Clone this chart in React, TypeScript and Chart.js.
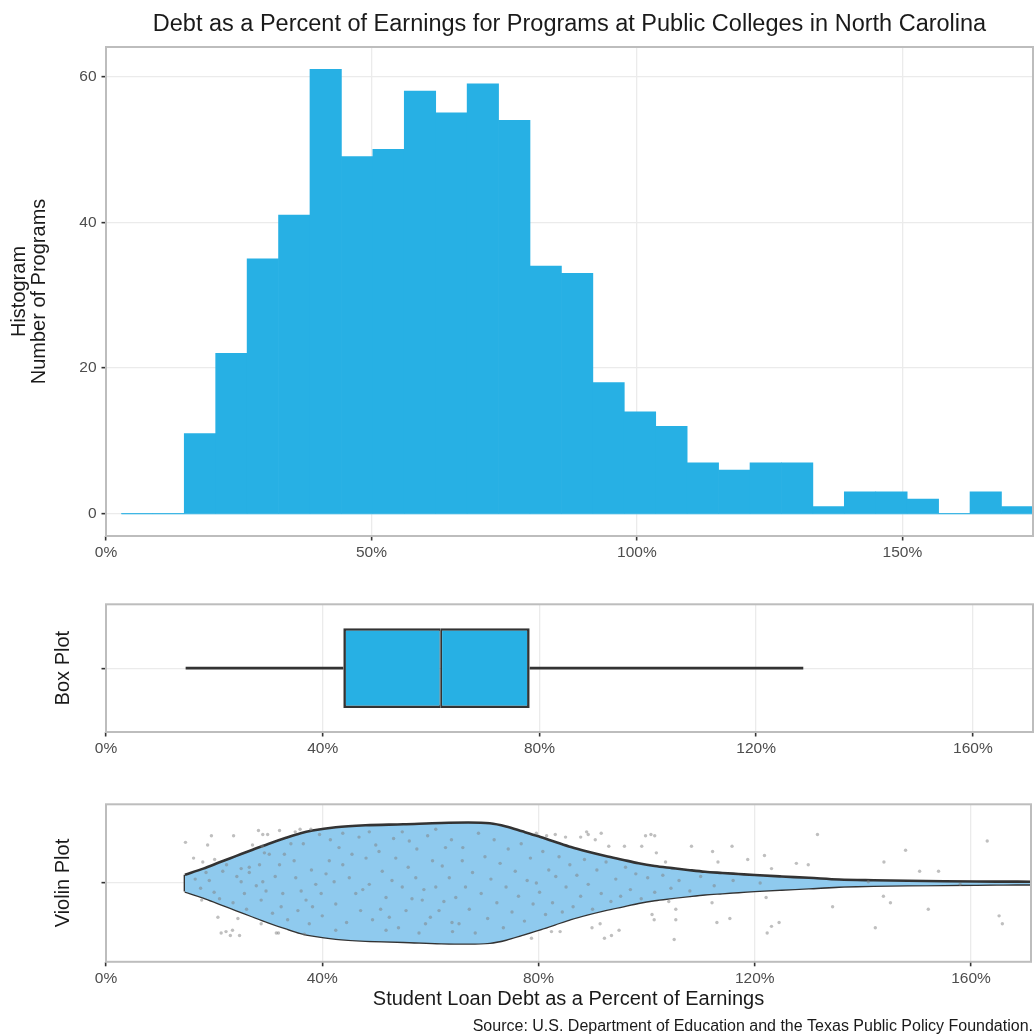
import React, { useEffect, useRef } from 'react';
import { Chart, registerables } from 'chart.js';

Chart.register(...registerables);

const FONT = "'Liberation Sans', Arial, Helvetica, sans-serif";
Chart.defaults.font.family = FONT;

const BLUE = '#27B0E4';
const VIOLIN_BLUE = '#8FCAEE';
const DARK = '#333333';
const GRID = '#EBEBEB';
const TICK_TEXT = '#4D4D4D';
const TEXT = '#1A1A1A';
const BORDER = '#BDBDBD';

// ---------- text ----------
const chartTitle = 'Debt as a Percent of Earnings for Programs at Public Colleges in North Carolina';
const histYTitle = ['Histogram', 'Number of Programs'];
const boxYTitle = 'Box Plot';
const violinYTitle = 'Violin Plot';
const xAxisTitle = 'Student Loan Debt as a Percent of Earnings';
const sourceText = 'Source: U.S. Department of Education and the Texas Public Policy Foundation.';

// ---------- histogram ----------
const binEdges = [2.9, 8.82, 14.74, 20.66, 26.58, 32.5, 38.42, 44.34, 50.26, 56.18, 62.1, 68.02, 73.94, 79.86, 85.78, 91.7, 97.62, 103.54, 109.46, 115.38, 121.3, 127.22, 133.14, 139.06, 144.98, 150.9, 156.82, 162.74, 168.66, 174.58];
const binCounts = [0, 0, 11, 22, 35, 41, 61, 49, 50, 58, 55, 59, 54, 34, 33, 18, 14, 12, 7, 6, 7, 7, 1, 3, 3, 2, 0, 3, 1];
const histXTicks = [0, 50, 100, 150];
const histYTicks = [0, 20, 40, 60];
const histXRange = [0, 174.6];
const histYRange = [-3.05, 64.05];

// ---------- box plot ----------
const boxStats = { whiskerLow: 14.7, q1: 43.8, median: 61.8, q3: 78.2, whiskerHigh: 128.7 };
const lowerXRange = [0, 171.1];
const lowerXTicks = [0, 40, 80, 120, 160];

// ---------- violin ----------
const violinX = [14.6, 18, 21, 24, 27, 30, 33.3, 36, 38.2, 42.5, 48, 55, 62, 67, 71, 74, 77, 80, 83, 86, 89, 92.4, 95.5, 98.5, 101.5, 104.7, 108, 110.8, 114, 117, 120, 125, 130, 135.6, 142, 148.3, 155, 161, 166, 171.1];
const violinHalfWidth = [0.064, 0.11, 0.158, 0.205, 0.252, 0.298, 0.345, 0.38, 0.4, 0.425, 0.44, 0.448, 0.458, 0.461, 0.455, 0.431, 0.394, 0.356, 0.315, 0.274, 0.24, 0.206, 0.178, 0.151, 0.13, 0.114, 0.098, 0.086, 0.077, 0.069, 0.061, 0.05, 0.04, 0.027, 0.021, 0.017, 0.014, 0.012, 0.011, 0.01];

// jittered programs [percent, jittered row position]
const jitterPoints: [number, number][] = [
  [14.7, 1.31], [19.5, 1.36], [18.8, 1.29], [23.6, 1.36], [28.2, 1.40], [29.0, 1.37], [29.9, 1.37], [32.1, 1.40], [35.0, 1.39], [35.9, 1.41], [37.9, 1.41],
  [16.2, 1.19], [17.9, 1.16], [20.1, 1.18], [27.1, 1.29], [17.7, 0.87], [20.7, 0.74], [24.4, 0.73], [21.3, 0.62], [22.2, 0.63], [23.4, 0.64], [23.0, 0.60],
  [24.7, 0.60], [28.7, 0.69], [31.5, 0.62], [31.9, 0.62], [36.7, 0.61],
  [79.6, 1.38], [81.5, 1.36], [83.1, 1.37], [85.0, 1.35], [87.8, 1.35], [88.9, 1.39], [89.2, 1.37], [90.5, 1.33], [91.6, 1.38], [93.0, 1.28], [95.9, 1.28],
  [99.1, 1.28], [99.8, 1.36], [100.8, 1.37], [101.5, 1.36], [101.8, 1.23], [103.5, 1.16], [108.3, 1.28], [112.2, 1.24], [113.2, 1.16], [115.8, 1.28],
  [118.7, 1.18], [121.8, 1.21], [123.1, 1.11], [127.7, 1.15], [129.9, 1.14], [131.6, 1.37], [143.9, 1.16], [147.9, 1.25], [150.5, 1.09], [154.0, 1.09], [163.0, 1.32],
  [78.7, 0.58], [82.4, 0.63], [84.0, 0.63], [89.9, 0.66], [91.4, 0.69], [92.2, 0.58], [93.5, 0.60], [94.9, 0.64], [101.0, 0.76], [101.4, 0.72], [105.1, 0.57],
  [105.4, 0.80], [105.4, 0.72], [104.1, 0.86], [112.1, 0.85], [113.0, 0.70], [115.4, 0.73], [122.1, 0.89], [122.3, 0.62], [123.1, 0.67], [124.5, 0.70], [134.4, 0.82],
  [142.3, 0.66], [143.8, 0.90], [145.1, 0.85], [152.1, 0.80], [165.2, 0.75], [165.8, 0.69],
  [19.1, 1.02], [21.6, 1.09], [25.0, 1.11], [26.5, 1.12], [25.0, 1.01], [25.6, 0.92], [26.5, 1.08], [28.4, 1.14], [29.3, 1.23], [30.2, 1.22], [33.0, 1.22],
  [32.1, 1.14], [29.0, 1.01], [29.6, 0.94], [28.7, 0.87], [32.7, 0.92], [32.4, 0.82], [34.8, 1.17], [35.1, 1.04], [36.1, 0.94], [35.5, 0.79], [37.0, 0.87],
  [38.2, 0.82], [38.8, 0.99], [39.8, 0.92], [40.7, 1.07], [41.3, 1.17], [42.2, 1.01], [42.5, 0.84], [43.1, 1.27], [43.8, 1.14], [45.0, 1.04], [46.2, 0.92],
  [47.1, 0.79], [48.1, 1.19], [48.7, 0.99], [49.3, 0.72], [49.9, 1.29], [51.1, 1.09], [51.8, 0.89], [52.4, 0.74], [53.6, 1.19], [54.8, 0.97], [55.5, 0.79],
  [56.1, 1.32], [57.3, 1.04], [58.5, 0.87], [59.1, 0.69], [60.4, 1.17], [61.0, 0.97], [61.6, 0.79], [62.8, 1.27], [63.5, 1.04], [64.7, 0.89], [65.3, 0.69],
  [65.9, 1.17], [66.5, 0.97], [39.5, 1.37], [43.8, 1.38], [48.7, 1.39], [54.8, 1.39], [61.0, 1.41], [51.8, 0.64], [57.9, 0.62], [64.1, 0.63], [42.5, 0.64], [37.6, 0.69],
  [36.5, 1.30], [38.0, 1.10], [40.0, 0.75], [41.5, 1.33], [44.5, 0.70], [45.5, 1.22], [46.8, 1.35], [47.5, 0.95], [50.5, 1.24], [50.8, 0.80], [52.9, 1.02],
  [53.2, 1.34], [54.1, 0.66], [55.9, 1.12], [56.6, 0.88], [57.5, 1.26], [58.8, 0.95], [59.5, 1.36], [60.0, 0.74], [62.2, 1.13], [62.5, 0.86], [63.9, 1.33],
  [64.0, 0.70], [66.0, 1.27], [67.2, 0.80], [67.8, 1.08], [68.3, 0.62], [68.9, 1.38], [69.4, 0.92], [70.1, 1.20], [70.6, 0.73], [71.2, 1.03], [71.8, 1.33],
  [72.3, 0.85], [72.9, 1.15], [73.5, 0.66], [74.0, 0.97], [74.4, 1.26], [75.1, 0.78], [75.7, 1.09], [76.3, 0.90], [76.8, 1.30], [77.4, 0.71], [77.9, 1.02],
  [78.5, 1.19], [79.0, 0.84], [79.6, 1.00], [80.2, 0.93], [80.8, 1.24], [81.3, 0.76], [81.9, 1.10], [82.6, 0.85], [83.2, 1.05], [83.8, 1.20], [84.4, 0.78],
  [85.1, 0.97], [85.8, 1.14], [86.4, 0.82], [87.1, 1.06], [87.8, 0.90], [88.5, 1.18], [89.2, 0.99], [90.0, 0.80], [90.8, 1.10], [91.6, 0.92], [92.5, 1.16],
  [93.4, 0.86], [94.3, 1.03], [95.2, 0.90], [96.1, 1.12], [97.0, 0.95], [98.0, 1.07], [99.0, 0.88], [100.2, 1.04], [101.5, 0.93], [103.0, 1.06], [104.5, 0.96],
  [106.0, 1.02], [108.0, 0.94], [110.0, 1.05], [112.5, 0.98], [116.0, 1.02], [121.0, 1.00], [141.0, 1.01], [158.0, 0.99],
  [16.5, 1.03], [17.5, 0.96], [18.5, 1.08], [20.0, 0.93], [21.0, 0.88], [22.3, 1.14], [23.5, 0.85], [24.2, 1.05], [26.0, 0.80], [27.8, 0.98], [28.9, 1.28],
  [30.8, 0.77], [31.3, 1.05], [33.6, 0.72], [34.2, 1.30],
];

// ---------- shared helpers ----------
const tickFont = { family: FONT, size: 15.5 };
const LINE_W = 2.6;

const panelBorder = {
  id: 'panelBorder',
  afterDraw(chart: any) {
    const { ctx, chartArea: a } = chart;
    ctx.save();
    ctx.strokeStyle = BORDER;
    ctx.lineWidth = 2;
    ctx.strokeRect(a.left, a.top, a.right - a.left, a.bottom - a.top);
    ctx.restore();
  },
};

const gridOpts = { color: GRID, lineWidth: 1.3, tickColor: DARK, tickWidth: 1.6, tickLength: 4.5, offset: false };

function xScale(range: number[], tickValues: number[], height: number, title?: string) {
  return {
    type: 'linear',
    min: range[0],
    max: range[1],
    offset: false,
    afterFit: (s: any) => { s.height = height; },
    afterBuildTicks: (s: any) => { s.ticks = tickValues.map((v) => ({ value: v })); },
    grid: gridOpts,
    border: { display: false },
    ticks: { font: tickFont, color: TICK_TEXT, padding: 3, maxRotation: 0, autoSkip: false, callback: (v: any) => v + '%' },
    title: title
      ? { display: true, text: title, color: TEXT, font: { family: FONT, size: 20, lineHeight: 1.2 }, padding: { top: 0, bottom: 0 } }
      : { display: false },
  };
}

function useChart(build: () => any) {
  const ref = useRef<HTMLCanvasElement | null>(null);
  useEffect(() => {
    if (!ref.current) return;
    const chart = new Chart(ref.current, build());
    return () => chart.destroy();
  }, []);
  return ref;
}

function Histogram() {
  const ref = useChart(() => {
    const centers = binCounts.map((_, i) => (binEdges[i] + binEdges[i + 1]) / 2);
    return {
      type: 'bar',
      data: {
        datasets: [
          {
            type: 'bar',
            data: centers.map((c, i) => ({ x: c, y: binCounts[i] })),
            backgroundColor: BLUE,
            borderWidth: 0,
            barPercentage: 1,
            categoryPercentage: 1,
          },
          {
            type: 'line',
            data: [
              { x: binEdges[0], y: 0 },
              { x: binEdges[binEdges.length - 1], y: 0 },
            ],
            borderColor: BLUE,
            borderWidth: 1.2,
            pointRadius: 0,
          },
        ],
      },
      options: {
        responsive: false,
        animation: false,
        events: [],
        layout: { padding: { top: 0, left: 0, right: 2, bottom: 0 } },
        plugins: {
          legend: { display: false },
          tooltip: { enabled: false },
          title: {
            display: true,
            text: chartTitle,
            color: TEXT,
            fullSize: false,
            font: { family: FONT, size: 23.5, weight: 'normal', lineHeight: 1.2 },
            padding: { top: 10, bottom: 8.8 },
          },
        },
        scales: {
          x: xScale(histXRange, histXTicks, 30),
          y: {
            type: 'linear',
            min: histYRange[0],
            max: histYRange[1],
            afterFit: (s: any) => { s.width = 106; },
            afterBuildTicks: (s: any) => { s.ticks = histYTicks.map((v) => ({ value: v })); },
            grid: gridOpts,
            border: { display: false },
            ticks: { font: tickFont, color: TICK_TEXT, padding: 5 },
            title: {
              display: true,
              text: histYTitle,
              color: TEXT,
              font: { family: FONT, size: 20, lineHeight: 0.98 },
              padding: { top: 10.1, bottom: 0 },
            },
          },
        },
      },
      plugins: [panelBorder],
    };
  });
  return <canvas ref={ref} width={1035} height={566} style={{ position: 'absolute', left: 0, top: 0 }} />;
}

function BoxPlot() {
  const ref = useChart(() => {
    const row = 'Box';
    const half = LINE_W / 2;
    return {
      type: 'bar',
      data: {
        labels: [row],
        datasets: [
          {
            type: 'bar',
            indexAxis: 'y',
            data: [[boxStats.q1, boxStats.median]],
            backgroundColor: BLUE,
            borderColor: DARK,
            borderWidth: { left: LINE_W, top: LINE_W, bottom: LINE_W, right: half },
            borderSkipped: false,
            grouped: false,
            barPercentage: 0.625,
            categoryPercentage: 1,
          },
          {
            type: 'bar',
            indexAxis: 'y',
            data: [[boxStats.median, boxStats.q3]],
            backgroundColor: BLUE,
            borderColor: DARK,
            borderWidth: { left: half, top: LINE_W, bottom: LINE_W, right: LINE_W },
            borderSkipped: false,
            grouped: false,
            barPercentage: 0.625,
            categoryPercentage: 1,
          },
          {
            type: 'line',
            data: [
              { x: boxStats.whiskerLow, y: row },
              { x: boxStats.q1, y: row },
            ],
            borderColor: DARK,
            borderWidth: LINE_W,
            pointRadius: 0,
          },
          {
            type: 'line',
            data: [
              { x: boxStats.q3, y: row },
              { x: boxStats.whiskerHigh, y: row },
            ],
            borderColor: DARK,
            borderWidth: LINE_W,
            pointRadius: 0,
          },
        ],
      },
      options: {
        responsive: false,
        animation: false,
        events: [],
        layout: { padding: { top: 14, left: 0, right: 2, bottom: 0 } },
        plugins: { legend: { display: false }, tooltip: { enabled: false }, title: { display: false } },
        scales: {
          x: xScale(lowerXRange, lowerXTicks, 30),
          y: {
            type: 'category',
            labels: [row],
            offset: true,
            afterFit: (s: any) => { s.width = 106; },
            grid: gridOpts,
            border: { display: false },
            ticks: { font: tickFont, color: TICK_TEXT, padding: 5, callback: () => '' },
            title: {
              display: true,
              text: boxYTitle,
              color: TEXT,
              font: { family: FONT, size: 20, lineHeight: 1.2 },
              padding: { top: 51, bottom: 0 },
            },
          },
        },
      },
      plugins: [panelBorder],
    };
  });
  return <canvas ref={ref} width={1035} height={172} style={{ position: 'absolute', left: 0, top: 590 }} />;
}

function ViolinPlot() {
  const ref = useChart(() => {
    const upper = violinX.map((x, i) => ({ x, y: 1 + violinHalfWidth[i] }));
    const lower = violinX.map((x, i) => ({ x, y: 1 - violinHalfWidth[i] }));
    const edge = [
      { x: violinX[0], y: 1 - violinHalfWidth[0] },
      { x: violinX[0], y: 1 + violinHalfWidth[0] },
    ];
    return {
      type: 'line',
      data: {
        datasets: [
          {
            data: jitterPoints.map(([x, y]) => ({ x, y })),
            showLine: false,
            pointRadius: 1.7,
            pointBorderWidth: 0,
            pointBackgroundColor: 'rgba(128,128,128,0.5)',
          },
          {
            data: upper,
            borderColor: DARK,
            borderWidth: LINE_W,
            pointRadius: 0,
            cubicInterpolationMode: 'monotone',
            fill: '+1',
            backgroundColor: VIOLIN_BLUE,
          },
          {
            data: lower,
            borderColor: DARK,
            borderWidth: LINE_W,
            pointRadius: 0,
            cubicInterpolationMode: 'monotone',
            fill: false,
          },
          {
            data: edge,
            borderColor: DARK,
            borderWidth: LINE_W,
            pointRadius: 0,
            fill: false,
          },
        ],
      },
      options: {
        responsive: false,
        animation: false,
        events: [],
        layout: { padding: { top: 12, left: 0, right: 2, bottom: 0 } },
        plugins: {
          legend: { display: false },
          tooltip: { enabled: false },
          title: {
            display: true,
            position: 'bottom',
            align: 'end',
            text: sourceText,
            color: TEXT,
            font: { family: FONT, size: 16, weight: 'normal', lineHeight: 1.2 },
            padding: { top: 5, bottom: 0 },
          },
        },
        scales: {
          x: xScale(lowerXRange, lowerXTicks, 50, xAxisTitle),
          y: {
            type: 'linear',
            min: 0.4,
            max: 1.6,
            afterFit: (s: any) => { s.width = 106; },
            afterBuildTicks: (s: any) => { s.ticks = [{ value: 1 }]; },
            grid: gridOpts,
            border: { display: false },
            ticks: { font: tickFont, color: TICK_TEXT, padding: 5, callback: () => '' },
            title: {
              display: true,
              text: violinYTitle,
              color: TEXT,
              font: { family: FONT, size: 20, lineHeight: 1.2 },
              padding: { top: 51, bottom: 0 },
            },
          },
        },
      },
      plugins: [panelBorder],
    };
  });
  return <canvas ref={ref} width={1035} height={246} style={{ position: 'absolute', left: 0, top: 790 }} />;
}

export default function App() {
  return (
    <div style={{ position: 'absolute', left: 0, top: 0, width: 1035, height: 1036, background: '#FFFFFF', overflow: 'hidden' }}>
      <Histogram />
      <BoxPlot />
      <ViolinPlot />
    </div>
  );
}
